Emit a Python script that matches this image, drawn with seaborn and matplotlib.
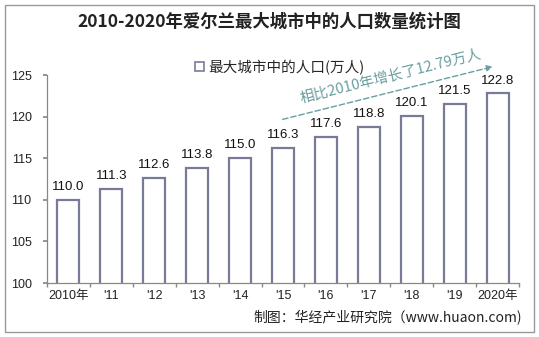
import matplotlib
matplotlib.use("Agg")
import matplotlib.pyplot as plt
import seaborn as sns
import pandas as pd
from matplotlib.patches import Patch, Rectangle
from matplotlib.ticker import FixedLocator

years = ["2010年", "'11", "'12", "'13", "'14", "'15", "'16", "'17", "'18", "'19", "2020年"]
population = [110.0, 111.3, 112.6, 113.8, 115.0, 116.3, 117.6, 118.8, 120.1, 121.5, 122.8]
series_name = "最大城市中的人口(万人)"
title = "2010-2020年爱尔兰最大城市中的人口数量统计图"
note = "相比2010年增长了12.79万人"
source = "制图：华经产业研究院（www.huaon.com)"
yticks = [100, 105, 110, 115, 120, 125]

sns.set_theme(style="white")
plt.rcParams['font.family'] = ['Liberation Sans', 'Noto Sans CJK SC', 'DejaVu Sans']
cjk = ['Noto Sans CJK SC', 'DejaVu Sans']

df = pd.DataFrame({"year": years, "value": population})

fig = plt.figure(figsize=(5.39, 3.37), dpi=100)
ax = fig.add_axes([0.087, 0.160, 0.876, 0.617])

bar_edge = "#777b98"
sns.barplot(data=df, x="year", y="value", ax=ax, color="white", width=0.51,
            edgecolor=bar_edge, linewidth=1.6)
for p in ax.patches:
    p.set_facecolor("white")
    p.set_edgecolor(bar_edge)

ax.set_ylim(100, 125)
ax.set_xlim(-0.5, len(years) - 0.5)
ax.set_yticks(yticks)
ax.set_yticklabels([str(t) for t in yticks], fontsize=9, color="#222222")
ax.set_xticks(range(len(years)))
ax.set_xticklabels(years, fontsize=9, color="#222222")
ax.xaxis.set_minor_locator(FixedLocator([i - 0.5 for i in range(len(years) + 1)]))
ax.tick_params(axis='x', which='major', length=0, pad=5)
ax.tick_params(axis='x', which='minor', length=3, color="#888888", direction='out', bottom=True)
ax.tick_params(axis='y', which='major', length=3, color="#888888", direction='out', left=True, pad=8)
ax.set_xlabel("")
ax.set_ylabel("")
for s in ["top", "right"]:
    ax.spines[s].set_visible(False)
for s in ["left", "bottom"]:
    ax.spines[s].set_color("#888888")
    ax.spines[s].set_linewidth(0.9)

for i, v in enumerate(population):
    ax.annotate(f"{v:.1f}", (i, v), xytext=(0, 5), textcoords="offset points",
                ha="center", va="bottom", fontsize=9.5, color="#111111")

# annotation arrow
teal = "#6a9ea0"
ax.annotate("", xy=(9.95, 126.1), xytext=(4.93, 119.6), xycoords="data",
            arrowprops=dict(arrowstyle="-|>", color=teal, lw=1.0, linestyle=(0, (4, 2)),
                            mutation_scale=9), annotation_clip=False)
ax.text(7.5, 124.9, note, rotation=14, ha="center", va="center", fontsize=10.5,
        color=teal, family=cjk, clip_on=False)

# legend
h = Patch(facecolor="white", edgecolor=bar_edge, linewidth=1.2)
fig.legend([h], [series_name], loc="center left", bbox_to_anchor=(0.338, 0.80),
           frameon=False, handlelength=0.6, handleheight=0.6, handletextpad=0.3,
           prop={'family': cjk, 'size': 10.5})

fig.text(0.5, 0.935, title, ha="center", va="center", fontsize=12.5, fontweight="bold",
         color="#222222", family=cjk)
fig.text(0.968, 0.057, source, ha="right", va="center", fontsize=10, color="#222222", family=cjk)

fig.patches.append(Rectangle((0.009, 0.015), 0.981, 0.97, transform=fig.transFigure,
                             fill=False, edgecolor="#999999", linewidth=1.0))

fig.savefig("out.png", dpi=100)
